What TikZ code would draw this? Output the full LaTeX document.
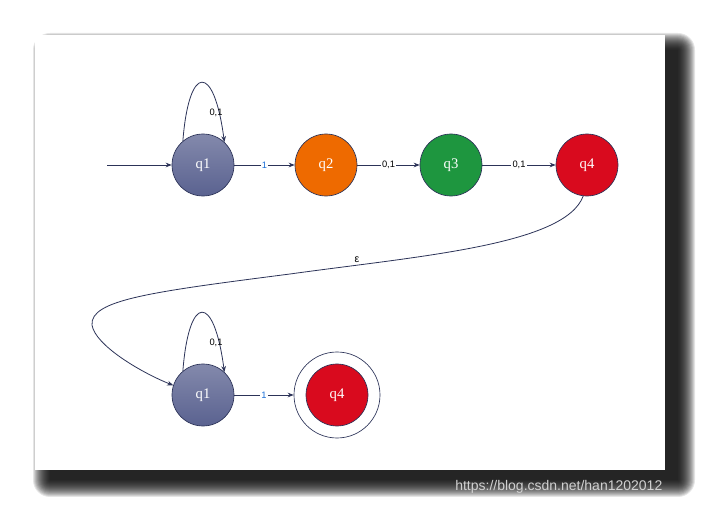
\documentclass[tikz,border=0pt]{standalone}
\usepackage{fontspec}
\newfontfamily\labfont{Liberation Sans}
\newfontfamily\statefont{Liberation Serif}
\usetikzlibrary{arrows.meta}
\definecolor{slate}{HTML}{5A6290}
\definecolor{navy}{HTML}{2C3358}
\definecolor{qorange}{HTML}{EE6A00}
\definecolor{qgreen}{HTML}{1E963F}
\definecolor{qred}{HTML}{D90A1E}
\definecolor{lblue}{HTML}{1A6FD8}
\tikzset{
  state/.style={circle,draw=navy,line width=0.5pt,minimum size=46.5pt,inner sep=0pt,
    text=white,font=\statefont\fontsize{11}{11}\selectfont},
  ring/.style={circle,draw=navy,line width=0.5pt,minimum size=64.5pt,inner sep=0pt},
  edgearrow/.style={draw=navy,line width=0.6pt,-{Stealth[length=4.5pt,width=3.5pt]}},
  elabel/.style={fill=white,inner sep=0.8pt,font=\labfont\fontsize{7}{7}\selectfont,text=black},
  blabel/.style={elabel,text=lblue}
}
\begin{document}
\begin{tikzpicture}[x=0.75pt,y=-0.75pt]
\useasboundingbox (0,0) rectangle (701,506);
% shadow
\foreach \d in {0,1,...,17}{
  \fill[black,opacity=0.1,rounded corners=\d*0.75pt] (50-\d,50-\d) rectangle (678+\d,480+\d);
}
\fill[white] (35,35) rectangle (665,470);
% states
\node[state,top color=slate!75!white,bottom color=slate] (q1) at (203,165) {q1};
\node[state,fill=qorange] (q2) at (326,165) {q2};
\node[state,fill=qgreen] (q3) at (451,165) {q3};
\node[state,fill=qred] (q4) at (587,165) {q4};
\node[state,top color=slate!75!white,bottom color=slate] (q1b) at (203,395) {q1};
\node[state,fill=qred] (q4b) at (337,395) {q4};
\node[ring] (q4ring) at (337,395) {};
\coordinate (start) at (107,165);
% edges
\draw[edgearrow] (start) -- (q1);
\draw[edgearrow] (q1) -- node[blabel]{1} (q2);
\draw[edgearrow] (q2) -- node[elabel]{0,1} (q3);
\draw[edgearrow] (q3) -- node[elabel]{0,1} (q4);
\draw[edgearrow] (q1.130) .. controls (189,63) and (214,63) .. (q1.47);
\node[elabel,fill=none] (l1) at (216,113) {0,1};
\draw[edgearrow] (q1b.130) .. controls (189,293) and (214,293) .. (q1b.47);
\node[elabel,fill=none] (l2) at (216,343) {0,1};
\draw[edgearrow] (q1b) -- node[blabel]{1} (q4ring);
\draw[edgearrow] (q4.-97) .. controls (565,245) and (420,256) .. (290,274)
   .. controls (150,292) and (90,300) .. (92,325)
   .. controls (95,345) and (140,372) .. (q1b.162);
\node[font=\labfont\fontsize{8}{8}\selectfont] (eps) at (357,260) {ε};
% watermark
\node[anchor=west,text=white!82!black,font=\labfont\fontsize{10.5}{10.5}\selectfont,inner sep=0pt] (wm) at (455,487) {https://blog.csdn.net/han1202012};
\end{tikzpicture}
\end{document}
